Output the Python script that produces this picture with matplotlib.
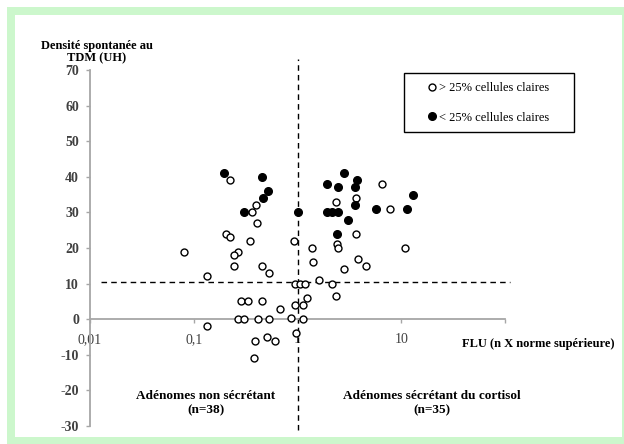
import numpy as np
import matplotlib.pyplot as plt
from matplotlib.patches import Rectangle
from matplotlib.lines import Line2D

plt.rcParams['font.family'] = ['Liberation Serif', 'DejaVu Serif']
plt.rcParams['axes.unicode_minus'] = False

# open circles: > 25% cellules claires
flu_claires = [0.223, 0.398, 0.366, 0.407, 0.205, 0.223, 0.346, 0.93, 0.081, 0.265,
               0.244, 0.246, 0.458, 0.528, 0.133, 0.946, 0.285, 0.336, 0.458, 0.683,
               0.946, 0.265, 0.307, 0.419, 0.528, 0.865, 0.133, 0.389, 0.508, 0.607,
               0.381, 0.973, 1.05, 1.19, 1.13, 1.23, 1.13, 6.53, 3.69, 2.37,
               7.85, 3.64, 2.39, 2.47, 1.38, 10.9, 1.42, 3.86, 4.61, 2.79,
               1.60, 2.17, 2.37]
dens_claires = [39, 32, 30, 27, 24, 23, 22, 22, 19, 19,
                18, 15, 15, 13, 12, 10, 5, 5, 5, 3,
                4, 0, 0, 0, 0, 0.3, -2, -6, -5, -6,
                -11, -4, 10, 10, 4, 6, 0, 38, 34, 33,
                31, 24, 21, 20, 20, 20, 16, 17, 15, 14,
                11, 10, 6.5]

# filled circles: < 25% cellules claires
flu_sombres = [0.194, 0.452, 0.52, 0.468, 0.305, 1.0, 2.83, 3.77, 1.92, 2.44,
               3.61, 12.9, 3.61, 1.92, 2.14, 2.44, 5.75, 11.4, 3.09, 2.39]
dens_sombres = [41, 40, 36, 34, 30, 30, 41, 39, 38, 37,
                37, 35, 32, 30, 30, 30, 31, 31, 28, 24]

x_ticks = [0.01, 0.1, 1, 10, 100]
x_labels = ['0,01', '0,1', '1', '10', '']
y_ticks = list(range(-30, 80, 10))

flu_cut = 1
dens_cut = 10.4

W, H = 624, 444
fig = plt.figure(figsize=(W / 100, H / 100), dpi=100)

# light green frame round the chart area
green = '#ccf7cc'
fig.add_artist(Rectangle((7 / W, 0), 617 / W, 437 / H, transform=fig.transFigure,
                         facecolor=green, edgecolor='none', zorder=-3))
fig.add_artist(Rectangle((15 / W, 7 / H), 607 / W, 422 / H, transform=fig.transFigure,
                         facecolor='white', edgecolor='none', zorder=-2))

ax = fig.add_axes([90 / W, 1 - 426 / H, 415 / W, 356 / H])
ax.patch.set_alpha(0)
ax.set_xscale('log')
ax.set_xlim(0.01, 100)
ax.set_ylim(-30, 70)

for s in ['top', 'right']:
    ax.spines[s].set_visible(False)
ax.spines['bottom'].set_position(('data', 0))
for s in ['left', 'bottom']:
    ax.spines[s].set_color('#a6a6a6')
    ax.spines[s].set_linewidth(1.3)

ax.set_xticks(x_ticks)
ax.set_xticklabels(x_labels)
ax.xaxis.set_minor_locator(plt.NullLocator())
ax.set_yticks(y_ticks)
ax.tick_params(axis='both', direction='out', length=3, color='#a6a6a6', width=1,
               labelcolor='#404040')
ax.tick_params(axis='x', pad=7, labelsize=10)
ax.tick_params(axis='y', pad=5, labelsize=10)
for t in ax.get_yticklabels():
    t.set_fontweight('bold')

ax.plot(flu_claires, dens_claires, 'o', ms=5, mfc='white', mec='black', mew=1,
        ls='none', clip_on=False, zorder=3)
ax.plot(flu_sombres, dens_sombres, 'o', ms=5.5, mfc='black', mec='black', mew=1,
        ls='none', clip_on=False, zorder=3)

ax.plot([flu_cut, flu_cut], [-31, 73], color='black', lw=1, dashes=(4, 3), clip_on=False)
ax.plot([0.0127, 112], [dens_cut, dens_cut], color='black', lw=1, dashes=(4, 3),
        clip_on=False)

fig.text(97 / W, 1 - 52 / H, 'Densité spontanée au\nTDM (UH)', ha='center', va='center',
         fontsize=9, fontweight='bold', linespacing=1.1)
fig.text(615 / W, 1 - 344 / H, 'FLU (n X norme supérieure)', ha='right', va='center',
         fontsize=9, fontweight='bold')
fig.text(206 / W, 1 - 403 / H, 'Adénomes non sécrétant\n(n=38)', ha='center', va='center',
         fontsize=9.5, fontweight='bold', linespacing=1.2)
fig.text(432 / W, 1 - 403 / H, 'Adénomes sécrétant du cortisol\n(n=35)', ha='center',
         va='center', fontsize=9.5, fontweight='bold', linespacing=1.2)

handles = [Line2D([], [], marker='o', ls='none', ms=5, mfc='white', mec='black', mew=1),
           Line2D([], [], marker='o', ls='none', ms=5.5, mfc='black', mec='black')]
ax.legend(handles, ['> 25% cellules claires', '< 25% cellules claires'], loc='center',
          bbox_to_anchor=(489 / W, 1 - 103 / H), bbox_transform=fig.transFigure,
          frameon=False, handlelength=0.5, handletextpad=0.25, labelspacing=1.4,
          prop={'size': 9})
fig.add_artist(Rectangle((404 / W, 1 - 132 / H), 170 / W, 59 / H, transform=fig.transFigure,
                         fill=False, edgecolor='black', lw=1))

fig.savefig('out.png', dpi=100)
